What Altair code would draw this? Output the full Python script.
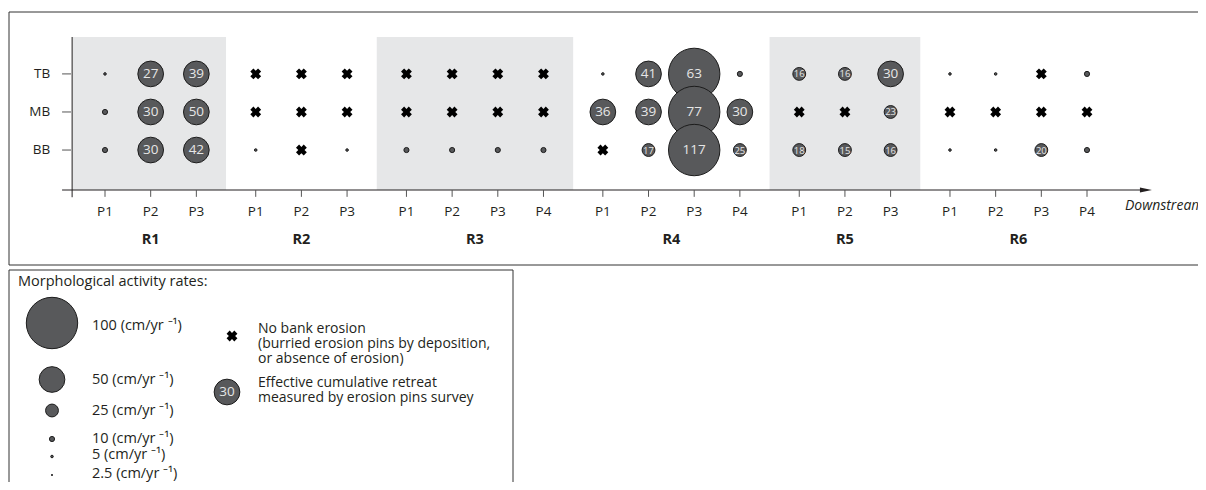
import altair as alt
import pandas as pd

# ---------------- data ----------------
regions = ["R1", "R2", "R3", "R4", "R5", "R6"]
n_points = [3, 3, 4, 4, 3, 4]
rows = ["TB", "MB", "BB"]
shaded_regions = ["R1", "R3", "R5"]

# rate class (cm/yr) drawn as bubble; 0 = no bank erosion (cross)
tb_class = [[5, 50, 50], [0, 0, 0], [0, 0, 0, 0], [5, 50, 100, 10], [25, 25, 50], [5, 5, 0, 10]]
mb_class = [[10, 50, 50], [0, 0, 0], [0, 0, 0, 0], [50, 50, 100, 50], [0, 0, 25], [0, 0, 0, 0]]
bb_class = [[10, 50, 50], [5, 0, 5], [10, 10, 10, 10], [0, 25, 100, 25], [25, 25, 25], [5, 5, 25, 10]]

# effective cumulative retreat measured by erosion pins ("" = none)
tb_label = [["", "27", "39"], ["", "", ""], ["", "", "", ""], ["", "41", "63", ""], ["16", "16", "30"], ["", "", "", ""]]
mb_label = [["", "30", "50"], ["", "", ""], ["", "", "", ""], ["36", "39", "77", "30"], ["", "", "23"], ["", "", "", ""]]
bb_label = [["", "30", "42"], ["", "", ""], ["", "", "", ""], ["", "17", "117", "25"], ["18", "15", "16"], ["", "", "20", ""]]

legend_rates = [100, 50, 25, 10, 5, 2.5]
legend_texts = ["100 (cm/yr \u207b\u00b9)", "50 (cm/yr \u207b\u00b9)", "25 (cm/yr \u207b\u00b9)",
                "10 (cm/yr \u207b\u00b9)", "5 (cm/yr \u207b\u00b9)", "2.5 (cm/yr \u207b\u00b9)"]
legend_title = "Morphological activity rates:"
cross_text = ["No bank erosion", "(burried erosion pins by deposition,", "or absence of erosion)"]
bubble_text = ["Effective cumulative retreat", "measured by erosion pins survey"]
bubble_example = "30"
axis_word = "Downstream"

# ---------------- layout ----------------
FONT = "Open Sans"
GAP = 0.3
xpos = []
p = 0.0
for n in n_points:
    xpos.append([round(p + i, 2) for i in range(n)])
    p += n + GAP

row_y = {"TB": 2, "MB": 1, "BB": 0}
Y_AX_X = -0.72
X_AX_Y = -1.05
Y_TOP = 2.97

classes = {"TB": tb_class, "MB": mb_class, "BB": bb_class}
labels = {"TB": tb_label, "MB": mb_label, "BB": bb_label}
recs = []
for row in rows:
    for ri, reg in enumerate(regions):
        for pi in range(n_points[ri]):
            recs.append(dict(x=xpos[ri][pi], y=row_y[row], cls=classes[row][ri][pi],
                             lab=labels[row][ri][pi], order=len(recs)))
pts = pd.DataFrame(recs)

shade = []
for ri, reg in enumerate(regions):
    if reg in shaded_regions:
        left = Y_AX_X if ri == 0 else (xpos[ri - 1][-1] + xpos[ri][0]) / 2
        right = (xpos[ri][-1] + xpos[ri + 1][0]) / 2 if ri + 1 < len(regions) else xpos[ri][-1] + 0.65
        shade.append(dict(x0=left, x1=right, y0=X_AX_Y, y1=Y_TOP))
shade = pd.DataFrame(shade)

ticks = pd.DataFrame([dict(x=x, lab=f"P{i+1}", y0=X_AX_Y, y1=-1.23, ty=-1.62)
                      for xs in xpos for i, x in enumerate(xs)])
reglab = pd.DataFrame([dict(x=(xs[0] + xs[-1]) / 2, lab=r, ty=-2.36) for r, xs in zip(regions, xpos)])
ylab = pd.DataFrame([dict(y=row_y[r], lab=r, x0=-0.94, x1=-0.745, tx=-1.2) for r in rows])
one = pd.DataFrame({"a": [0]})

XS = alt.Scale(domain=[0, 21.5], range=[97, 1079], nice=False, zero=False)
YS = alt.Scale(domain=[X_AX_Y, Y_TOP], range=[182, 29], nice=False, zero=False)
SS = alt.Scale(type="pow", exponent=2, domain=[0, 100], range=[0, 2642])

def X(f):
    return alt.X(f, type="quantitative", scale=XS, axis=None)

def Y(f):
    return alt.Y(f, type="quantitative", scale=YS, axis=None)

BUB_FILL = "#58595b"
BUB_STROKE = "#1c1c1c"
TXT = "#231f20"
LAB = "#e6e6e6"

layers = []
# frames
layers.append(alt.Chart(one).mark_rect(fillOpacity=0, stroke="#333333", strokeWidth=1).encode(
    x=alt.value(1), x2=alt.value(1196), y=alt.value(4), y2=alt.value(257)))
layers.append(alt.Chart(one).mark_rect(fillOpacity=0, stroke="#333333", strokeWidth=1).encode(
    x=alt.value(1), x2=alt.value(505), y=alt.value(262), y2=alt.value(490)))
# shaded reaches
layers.append(alt.Chart(shade).mark_rect(color="#e6e7e8").encode(
    x=X("x0"), x2="x1:Q", y=Y("y0"), y2="y1:Q"))
# axes
axes_df = pd.DataFrame([dict(x0=-0.94, x1=22.79, y0=X_AX_Y)])
layers.append(alt.Chart(axes_df).mark_rule(color=TXT, strokeWidth=1).encode(
    x=X("x0"), x2="x1:Q", y=Y("y0")))
yax_df = pd.DataFrame([dict(x=Y_AX_X, y0=-1.24, y1=Y_TOP)])
layers.append(alt.Chart(yax_df).mark_rule(color=TXT, strokeWidth=1).encode(
    x=X("x"), y=Y("y0"), y2="y1:Q"))
layers.append(alt.Chart(pd.DataFrame([dict(x=22.79, y=X_AX_Y)])).mark_point(
    shape="M-1,-0.4L1,0L-1,0.4Z", filled=True, color=TXT, size=144, opacity=1).encode(
    x=X("x"), y=Y("y")))
layers.append(alt.Chart(ticks).mark_rule(color="#555555", strokeWidth=1).encode(
    x=X("x"), y=Y("y0"), y2="y1:Q"))
layers.append(alt.Chart(ylab).mark_rule(color="#555555", strokeWidth=1).encode(
    x=X("x0"), x2="x1:Q", y=Y("y")))
layers.append(alt.Chart(ticks).mark_text(font=FONT, fontSize=13.5, color=TXT, baseline="middle").encode(
    x=X("x"), y=Y("ty"), text="lab:N"))
layers.append(alt.Chart(reglab).mark_text(font=FONT, fontSize=14.5, fontWeight="bold", color=TXT,
                                         baseline="middle").encode(
    x=X("x"), y=Y("ty"), text="lab:N"))
layers.append(alt.Chart(ylab).mark_text(font=FONT, fontSize=13.5, color=TXT, align="right",
                                       baseline="middle").encode(
    x=X("tx"), y=Y("y"), text="lab:N"))
layers.append(alt.Chart(pd.DataFrame([dict(x=22.33, y=-1.46, t=axis_word)])).mark_text(
    font=FONT, fontSize=14, fontStyle="italic", color=TXT, align="left", baseline="middle").encode(
    x=X("x"), y=Y("y"), text="t:N"))

# bubbles and crosses
layers.append(alt.Chart(pts).transform_filter("datum.cls > 0").mark_circle(
    fill=BUB_FILL, stroke=BUB_STROKE, strokeWidth=1, opacity=1).encode(
    x=X("x"), y=Y("y"), size=alt.Size("cls:Q", scale=SS, legend=None), order="order:Q"))
layers.append(alt.Chart(pts).transform_filter("datum.cls == 0").mark_point(
    shape="cross", angle=45, filled=True, color="black", size=120, opacity=1).encode(
    x=X("x"), y=Y("y")))
layers.append(alt.Chart(pts).transform_filter("datum.cls >= 50").mark_text(
    font=FONT, fontSize=13.5, color=LAB, baseline="middle").encode(
    x=X("x"), y=Y("y"), text="lab:N"))
layers.append(alt.Chart(pts).transform_filter("datum.cls == 25 && datum.lab != ''").mark_text(
    font=FONT, fontSize=9.5, color=LAB, baseline="middle", dy=0.5).encode(
    x=X("x"), y=Y("y"), text="lab:N"))

# legend
leg_cy = [315, 371.5, 402.5, 431, 448.5, 467]
leg_ty = [318, 372, 403, 431, 447, 466]
leg = pd.DataFrame(dict(rate=legend_rates, t=legend_texts, cy=leg_cy, ty=leg_ty))
layers.append(alt.Chart(leg).mark_circle(fill=BUB_FILL, stroke=BUB_STROKE, strokeWidth=1, opacity=1).encode(
    x=alt.value(44), y=alt.Y("cy:Q", scale=None, axis=None),
    size=alt.Size("rate:Q", scale=SS, legend=None)))
layers.append(alt.Chart(leg).mark_text(font=FONT, fontSize=14.5, color=TXT, align="left",
                                      baseline="middle").encode(
    x=alt.value(84), y=alt.Y("ty:Q", scale=None, axis=None), text="t:N"))

layers.append(alt.Chart(one).mark_text(font=FONT, fontSize=14.5, color=TXT, align="left",
                                       baseline="middle", text=legend_title).encode(
    x=alt.value(10), y=alt.value(274)))
layers.append(alt.Chart(one).mark_text(font=FONT, fontSize=14, color=TXT, align="left",
                                       baseline="top", lineHeight=15, text=cross_text).encode(
    x=alt.value(250), y=alt.value(314)))
layers.append(alt.Chart(one).mark_text(font=FONT, fontSize=14, color=TXT, align="left",
                                       baseline="top", lineHeight=15, text=bubble_text).encode(
    x=alt.value(250), y=alt.value(368)))
layers.append(alt.Chart(one).mark_point(shape="cross", angle=45, filled=True, color="black",
                                        size=120, opacity=1).encode(
    x=alt.value(224), y=alt.value(328)))
ex = pd.DataFrame(dict(rate=[50], t=[bubble_example]))
layers.append(alt.Chart(ex).mark_circle(fill=BUB_FILL, stroke=BUB_STROKE, strokeWidth=1, opacity=1).encode(
    x=alt.value(219), y=alt.value(384), size=alt.Size("rate:Q", scale=SS, legend=None)))
layers.append(alt.Chart(ex).mark_text(font=FONT, fontSize=13.5, color=LAB, baseline="middle").encode(
    x=alt.value(219), y=alt.value(384), text="t:N"))

chart = alt.layer(*layers).properties(
    width=1190, height=474, padding=0,
    autosize=alt.AutoSizeParams(type="none"),
    background="white",
).configure_view(strokeWidth=0)

chart.save("out.html", embed_options={"renderer": "svg", "actions": False})
